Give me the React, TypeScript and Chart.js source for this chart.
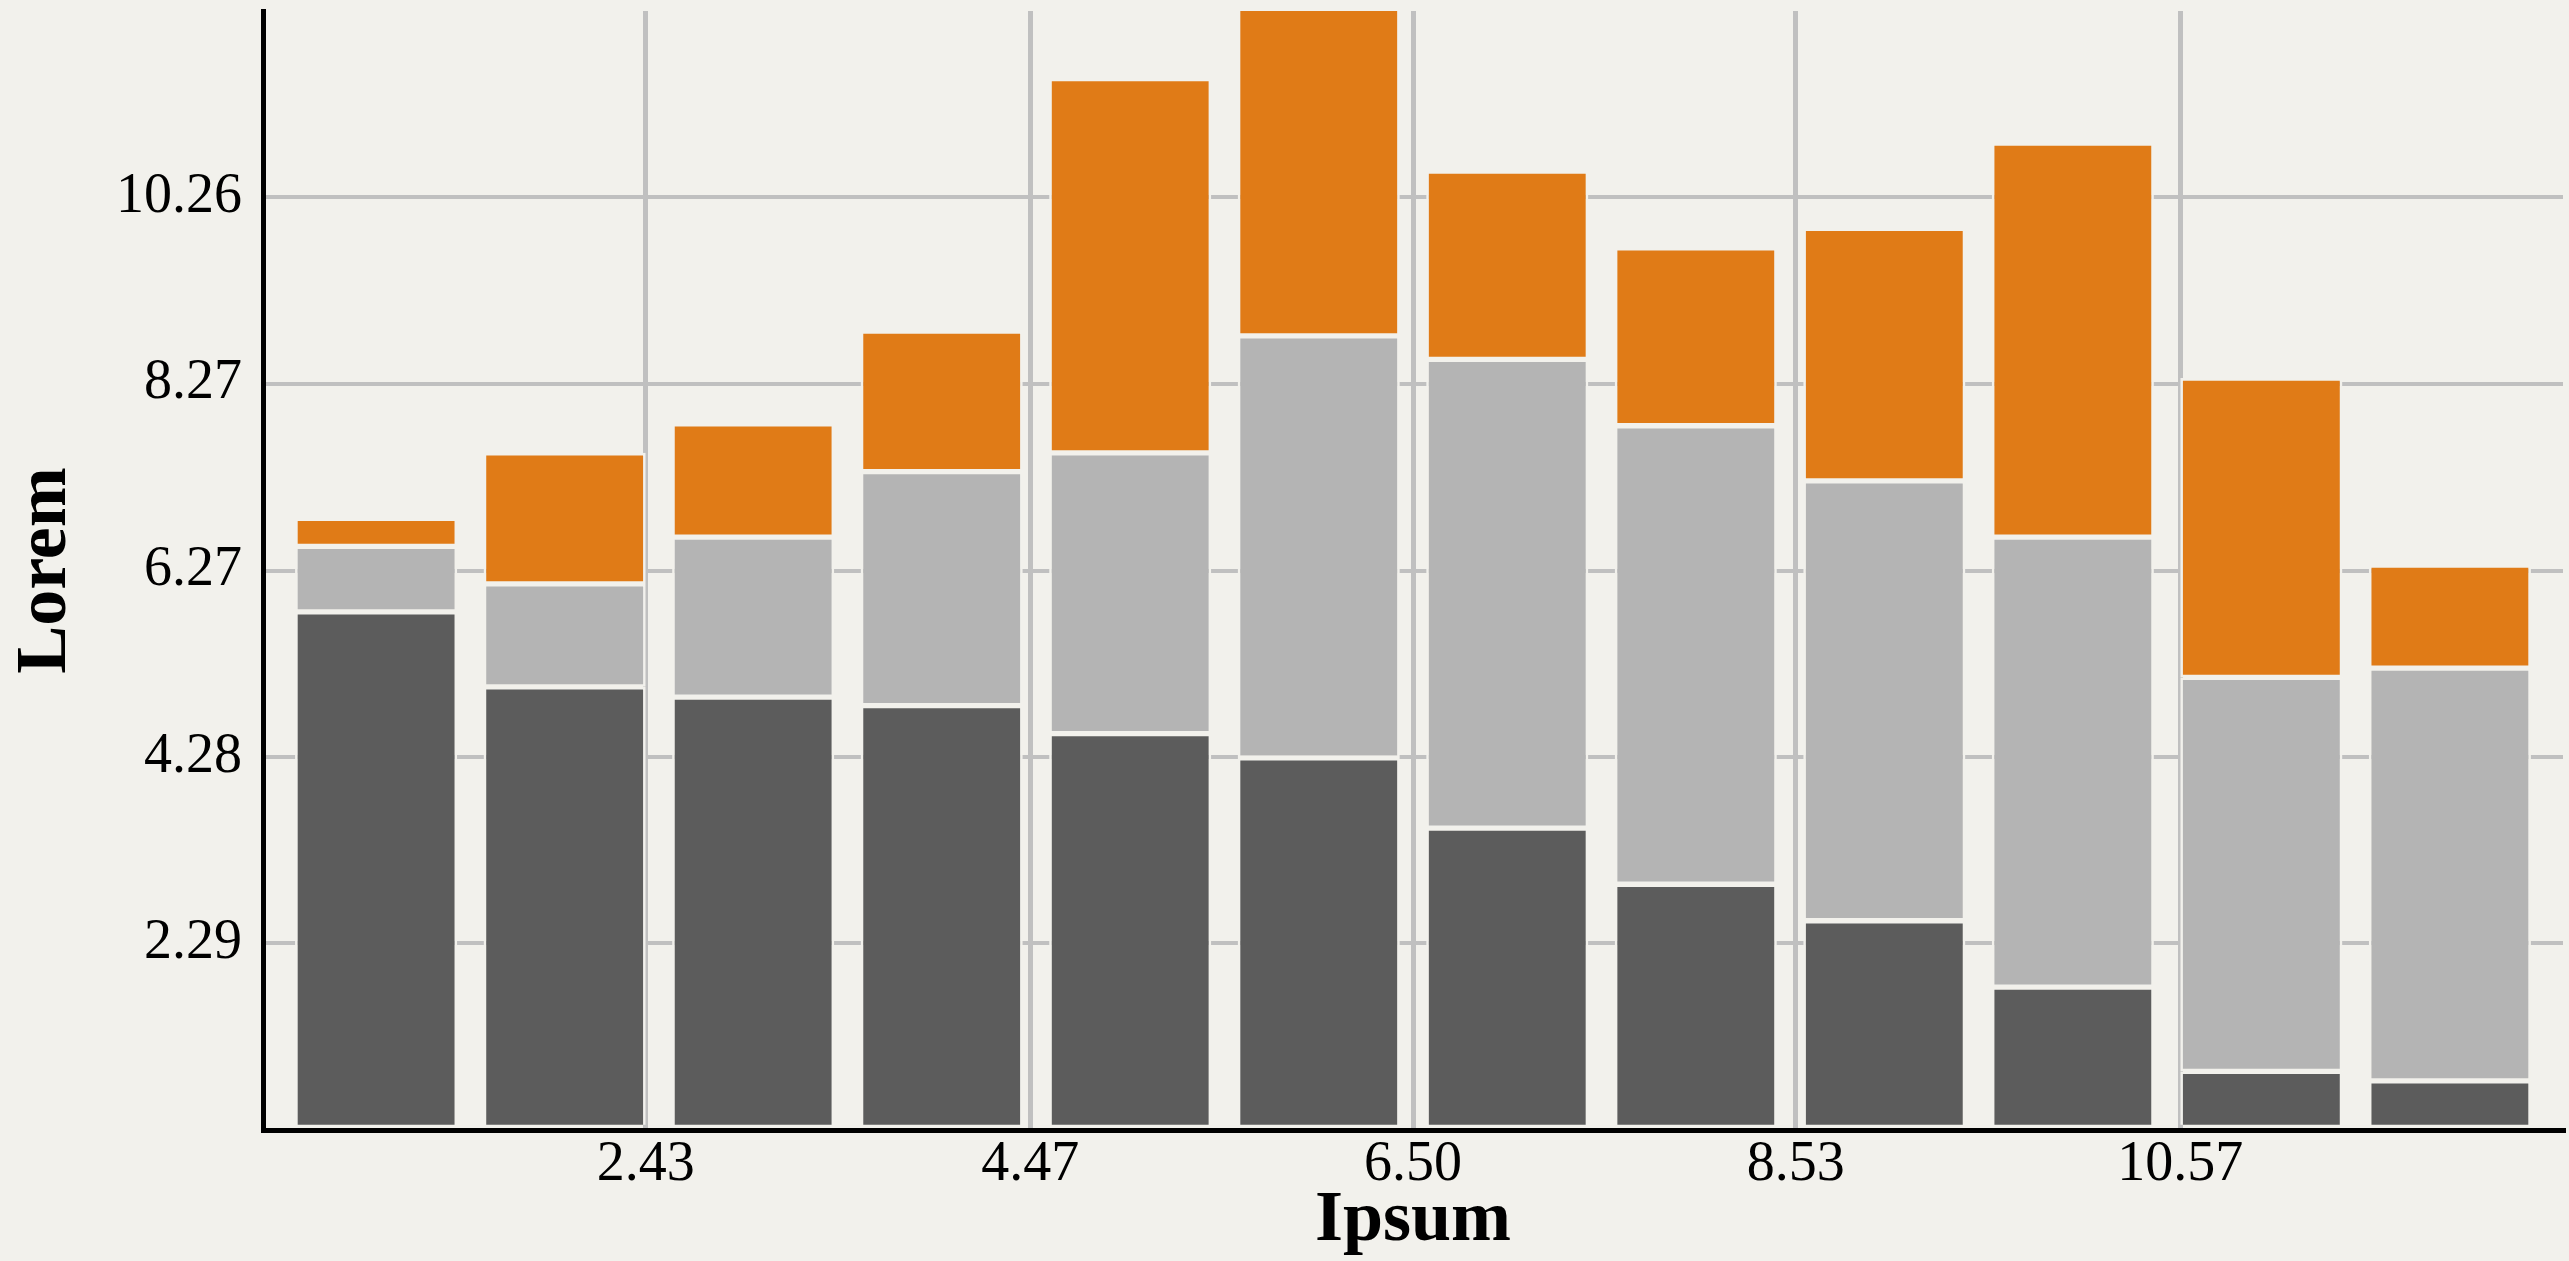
import React, { useEffect, useRef } from "react";
import { Chart, registerables } from "chart.js";

Chart.register(...registerables);

// ---- data ----
const positions = [1, 2, 3, 4, 5, 6, 7, 8, 9, 10, 11, 12];
const darkValues = [5.83, 5.03, 4.92, 4.83, 4.53, 4.27, 3.52, 2.92, 2.53, 1.82, 0.92, 0.82];
const grayValues = [0.70, 1.10, 1.71, 2.50, 3.00, 4.51, 5.01, 4.90, 4.70, 4.81, 4.21, 4.41];
const orangeValues = [0.30, 1.40, 1.21, 1.50, 4.00, 3.50, 2.01, 1.90, 2.70, 4.21, 3.20, 1.10];

const xTicks = [2.43, 4.47, 6.5, 8.53, 10.57];
const yTicks = [2.29, 4.28, 6.27, 8.27, 10.26];
const xRange = [0.4, 12.6];
const yRange = [0.294, 12.252];

const xTitle = "Ipsum";
const yTitle = "Lorem";

// ---- styles ----
const BG = "#f2f1ec";
const DARK = "#5c5c5c";
const GRAY = "#b4b4b4";
const ORANGE = "#e07b17";
const GRID = "#c0c0c0";
const FONT = "'Liberation Serif', 'Times New Roman', serif";

export default function App() {
  const canvasRef = useRef<HTMLCanvasElement | null>(null);

  useEffect(() => {
    document.body.style.margin = "0";
    document.body.style.background = BG;
    document.body.style.overflow = "hidden";
    const canvas = canvasRef.current;
    if (!canvas) return;

    const mk = (label: string, values: number[], color: string) => ({
      label,
      data: positions.map((x, i) => ({ x, y: values[i] })),
      backgroundColor: color,
      borderColor: BG,
      borderWidth: 2.65,
      borderSkipped: false as const,
      inflateAmount: 0,
      stack: "s",
      categoryPercentage: 1,
      barPercentage: 0.86,
      clip: { left: 0, top: 0, right: 0, bottom: -5.3 },
    });

    const chart = new Chart(canvas, {
      type: "bar",
      data: {
        datasets: [
          mk("A", darkValues, DARK),
          mk("B", grayValues, GRAY),
          mk("C", orangeValues, ORANGE),
        ] as any,
      },
      options: {
        animation: false,
        responsive: false,
        maintainAspectRatio: false,
        layout: { padding: { left: 0, top: 11, right: 6, bottom: 0 } },
        plugins: {
          legend: { display: false },
          tooltip: { enabled: false },
        },
        scales: {
          x: {
            type: "linear",
            offset: false,
            min: xRange[0],
            max: xRange[1],
            afterBuildTicks: (scale: any) => {
              scale.ticks = xTicks.map((v) => ({ value: v }));
            },
            afterFit: (scale: any) => {
              scale.height = 131;
              scale.paddingLeft = 0;
              scale.paddingRight = 0;
            },
            grid: { color: GRID, lineWidth: 5, drawTicks: false, offset: false },
            border: { display: true, color: "#000", width: 5 },
            ticks: {
              color: "#000",
              font: { family: FONT, size: 56 },
              padding: 2,
              maxRotation: 0,
              autoSkip: false,
              callback: (v: any) => Number(v).toFixed(2),
            },
            title: {
              display: true,
              text: xTitle,
              color: "#000",
              font: { family: FONT, size: 72, weight: "bold", lineHeight: 1.1 },
              padding: { top: 0, bottom: 0 },
            },
          },
          y: {
            type: "linear",
            stacked: true,
            min: yRange[0],
            max: yRange[1],
            afterBuildTicks: (scale: any) => {
              scale.ticks = yTicks.map((v) => ({ value: v }));
            },
            afterFit: (scale: any) => {
              scale.width = 263;
              scale.paddingTop = 0;
              scale.paddingBottom = 0;
            },
            grid: { color: GRID, lineWidth: 4, drawTicks: false },
            border: { display: true, color: "#000", width: 5 },
            ticks: {
              color: "#000",
              font: { family: FONT, size: 56 },
              padding: 21,
              autoSkip: false,
              callback: (v: any) => Number(v).toFixed(2),
            },
            title: {
              display: true,
              text: yTitle,
              color: "#000",
              font: { family: FONT, size: 72, weight: "bold", lineHeight: 1.1 },
              padding: { top: 6.5, bottom: 0 },
            },
          },
        },
      } as any,
    });

    return () => {
      chart.destroy();
    };
  }, []);

  return (
    <div style={{ width: 2569, height: 1261, background: BG }}>
      <canvas
        ref={canvasRef}
        width={2569}
        height={1261}
        style={{ width: 2569, height: 1261, display: "block" }}
      />
    </div>
  );
}
